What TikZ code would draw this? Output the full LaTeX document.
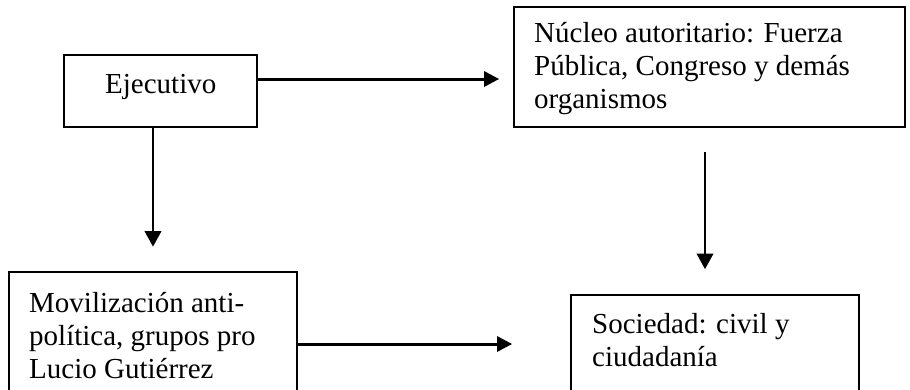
\documentclass[tikz,border=0pt]{standalone}
\usepackage{fontspec}
\setmainfont{Liberation Serif}
\usetikzlibrary{arrows.meta}
\begin{document}
\begin{tikzpicture}[x=1pt,y=-1pt,
  box/.style={draw, line width=1.7pt, inner sep=0pt},
  txt/.style={anchor=base west, inner sep=0pt, font=\fontsize{29}{33.4}\selectfont},
  harr/.style={line width=3pt, -{Triangle[length=15pt,width=15pt]}},
  varr/.style={line width=2pt, -{Triangle[length=15.5pt,width=16.5pt]}}
]
\clip (0,0) rectangle (910,389);
\useasboundingbox (0,0) rectangle (910,389);
% boxes
\node[box, minimum width=193pt, minimum height=72pt] (ej) at (160.5,91) {};
\node[box, minimum width=391pt, minimum height=120pt] (nu) at (709.5,67) {};
\node[box, minimum width=288pt, minimum height=144pt] (mo) at (153,344) {};
\node[box, minimum width=288pt, minimum height=125pt] (so) at (715,357.5) {};
% texts
\node[txt] (tej) at (105,93) {Ejecutivo};
\node[txt] (tnu) at (534,42) {\vtop{\hbox{Núcleo autoritario: Fuerza}\hbox{Pública, Congreso y demás}\hbox{organismos}}};
\node[txt] (tmo) at (29,312) {\vtop{\hbox{Movilización anti-}\hbox{política, grupos pro}\hbox{Lucio Gutiérrez}}};
\node[txt] (tso) at (592,333) {\vtop{\hbox{Sociedad: civil y}\hbox{ciudadanía}}};
% connectors
\draw[harr, shorten >=14pt] ([yshift=12pt]ej.east) -- ([yshift=12pt]ej.east -| nu.west);
\draw[varr, shorten >=24.5pt] (ej.south -| mo.north) -- (mo.north);
\draw[varr, shorten <=24pt, shorten >=25pt] ([xshift=-4.5pt]nu.south) -- ([xshift=-4.5pt]nu.south |- so.north);
\draw[harr, shorten >=58pt] (mo.east) -- (mo.east -| so.west);
\end{tikzpicture}
\end{document}
